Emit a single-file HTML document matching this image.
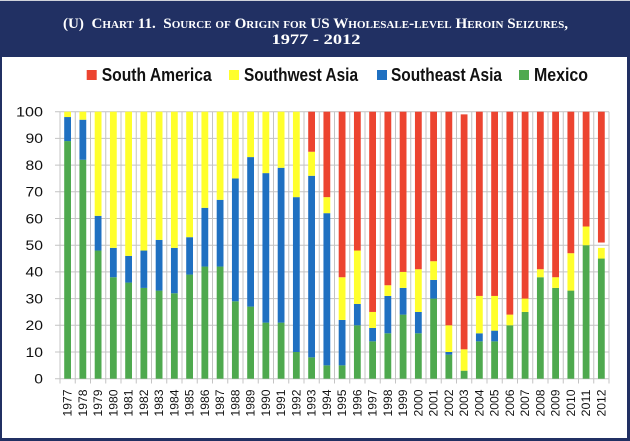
<!DOCTYPE html>
<html><head><meta charset="utf-8"><style>
html,body{margin:0;padding:0;background:#fff;}
svg{display:block;}
.t{font-family:"Liberation Serif",serif;font-weight:bold;fill:#fff;}
.lg{font-family:"Liberation Sans",sans-serif;font-weight:bold;font-size:18px;fill:#111;}
.yl{font-family:"Liberation Sans",sans-serif;font-size:13.5px;fill:#111;}
.xl{font-family:"Liberation Sans",sans-serif;font-size:12px;fill:#111;}
</style></head><body>
<svg width="630" height="441" viewBox="0 0 630 441" xmlns="http://www.w3.org/2000/svg">
<rect x="0" y="0" width="630" height="441" fill="#fff"/>
<rect x="0" y="0" width="630" height="1" fill="#cfd2da"/>
<rect x="0" y="1" width="630" height="56" fill="#213063"/>
<text class="t" x="315.5" y="28" text-anchor="middle" font-size="15" textLength="505" lengthAdjust="spacingAndGlyphs" style="font-variant:small-caps;white-space:pre">(U)  Chart 11.  Source of Origin for US Wholesale-level Heroin Seizures,</text>
<text class="t" x="316" y="44" text-anchor="middle" font-size="15" textLength="89" lengthAdjust="spacingAndGlyphs">1977 - 2012</text>
<rect x="0" y="57" width="2" height="384" fill="#213063"/>
<rect x="627" y="57" width="3" height="384" fill="#213063"/>
<rect x="0" y="438" width="630" height="3" fill="#213063"/>
<rect x="86.7" y="70" width="10" height="10" fill="#ec4430"/>
<text class="lg" x="101.7" y="81" textLength="110" lengthAdjust="spacingAndGlyphs">South America</text>
<rect x="229" y="70" width="10" height="10" fill="#ffff2c"/>
<text class="lg" x="244" y="81" textLength="114" lengthAdjust="spacingAndGlyphs">Southwest Asia</text>
<rect x="377" y="70" width="10" height="10" fill="#1f70c1"/>
<text class="lg" x="391" y="81" textLength="111" lengthAdjust="spacingAndGlyphs">Southeast Asia</text>
<rect x="519" y="70" width="10" height="10" fill="#4ea94e"/>
<text class="lg" x="534" y="81" textLength="54" lengthAdjust="spacingAndGlyphs">Mexico</text>
<g stroke="#c4c4c4" stroke-width="1" fill="none">
<path d="M55 378.7H609M55 352H609M55 325.3H609M55 298.6H609M55 271.9H609M55 245.2H609M55 218.5H609M55 191.8H609M55 165.1H609M55 138.4H609M55 111.7H609"/>
<path d="M60 111.7V383.5M75.25 111.7V383.5M90.5 111.7V383.5M105.75 111.7V383.5M121 111.7V383.5M136.25 111.7V383.5M151.5 111.7V383.5M166.75 111.7V383.5M182 111.7V383.5M197.25 111.7V383.5M212.5 111.7V383.5M227.75 111.7V383.5M243 111.7V383.5M258.25 111.7V383.5M273.5 111.7V383.5M288.75 111.7V383.5M304 111.7V383.5M319.25 111.7V383.5M334.5 111.7V383.5M349.75 111.7V383.5M365 111.7V383.5M380.25 111.7V383.5M395.5 111.7V383.5M410.75 111.7V383.5M426 111.7V383.5M441.25 111.7V383.5M456.5 111.7V383.5M471.75 111.7V383.5M487 111.7V383.5M502.25 111.7V383.5M517.5 111.7V383.5M532.75 111.7V383.5M548 111.7V383.5M563.25 111.7V383.5M578.5 111.7V383.5M593.75 111.7V383.5M609 111.7V383.5"/>
</g>
<g class="yl" text-anchor="end">
<text x="43" y="116.5" textLength="27" lengthAdjust="spacingAndGlyphs">100</text>
<text x="43" y="143.2" textLength="17.5" lengthAdjust="spacingAndGlyphs">90</text>
<text x="43" y="169.9" textLength="17.5" lengthAdjust="spacingAndGlyphs">80</text>
<text x="43" y="196.6" textLength="17.5" lengthAdjust="spacingAndGlyphs">70</text>
<text x="43" y="223.3" textLength="17.5" lengthAdjust="spacingAndGlyphs">60</text>
<text x="43" y="250" textLength="17.5" lengthAdjust="spacingAndGlyphs">50</text>
<text x="43" y="276.7" textLength="17.5" lengthAdjust="spacingAndGlyphs">40</text>
<text x="43" y="303.4" textLength="17.5" lengthAdjust="spacingAndGlyphs">30</text>
<text x="43" y="330.1" textLength="17.5" lengthAdjust="spacingAndGlyphs">20</text>
<text x="43" y="356.8" textLength="17.5" lengthAdjust="spacingAndGlyphs">10</text>
<text x="43" y="383.5" textLength="8.7" lengthAdjust="spacingAndGlyphs">0</text>
</g>
<g>
<g fill="#4ea94e">
<rect x="64.2" y="141.07" width="6.8" height="237.63"/>
<rect x="79.45" y="159.76" width="6.8" height="218.94"/>
<rect x="94.7" y="250.54" width="6.8" height="128.16"/>
<rect x="109.95" y="277.24" width="6.8" height="101.46"/>
<rect x="125.2" y="282.58" width="6.8" height="96.12"/>
<rect x="140.45" y="287.92" width="6.8" height="90.78"/>
<rect x="155.7" y="290.59" width="6.8" height="88.11"/>
<rect x="170.95" y="293.26" width="6.8" height="85.44"/>
<rect x="186.2" y="274.57" width="6.8" height="104.13"/>
<rect x="201.45" y="266.56" width="6.8" height="112.14"/>
<rect x="216.7" y="266.56" width="6.8" height="112.14"/>
<rect x="231.95" y="301.27" width="6.8" height="77.43"/>
<rect x="247.2" y="306.61" width="6.8" height="72.09"/>
<rect x="262.45" y="322.63" width="6.8" height="56.07"/>
<rect x="277.7" y="322.63" width="6.8" height="56.07"/>
<rect x="292.95" y="352" width="6.8" height="26.7"/>
<rect x="308.2" y="357.34" width="6.8" height="21.36"/>
<rect x="323.45" y="365.35" width="6.8" height="13.35"/>
<rect x="338.7" y="365.35" width="6.8" height="13.35"/>
<rect x="353.95" y="325.3" width="6.8" height="53.4"/>
<rect x="369.2" y="341.32" width="6.8" height="37.38"/>
<rect x="384.45" y="333.31" width="6.8" height="45.39"/>
<rect x="399.7" y="314.62" width="6.8" height="64.08"/>
<rect x="414.95" y="333.31" width="6.8" height="45.39"/>
<rect x="430.2" y="298.6" width="6.8" height="80.1"/>
<rect x="445.45" y="354.67" width="6.8" height="24.03"/>
<rect x="460.7" y="370.69" width="6.8" height="8.01"/>
<rect x="475.95" y="341.32" width="6.8" height="37.38"/>
<rect x="491.2" y="341.32" width="6.8" height="37.38"/>
<rect x="506.45" y="325.3" width="6.8" height="53.4"/>
<rect x="521.7" y="311.95" width="6.8" height="66.75"/>
<rect x="536.95" y="277.24" width="6.8" height="101.46"/>
<rect x="552.2" y="287.92" width="6.8" height="90.78"/>
<rect x="567.45" y="290.59" width="6.8" height="88.11"/>
<rect x="582.7" y="245.2" width="6.8" height="133.5"/>
<rect x="597.95" y="258.55" width="6.8" height="120.15"/>
</g>
<g fill="#1f70c1">
<rect x="64.2" y="117.04" width="6.8" height="24.03"/>
<rect x="79.45" y="119.71" width="6.8" height="40.05"/>
<rect x="94.7" y="215.83" width="6.8" height="34.71"/>
<rect x="109.95" y="247.87" width="6.8" height="29.37"/>
<rect x="125.2" y="255.88" width="6.8" height="26.7"/>
<rect x="140.45" y="250.54" width="6.8" height="37.38"/>
<rect x="155.7" y="239.86" width="6.8" height="50.73"/>
<rect x="170.95" y="247.87" width="6.8" height="45.39"/>
<rect x="186.2" y="237.19" width="6.8" height="37.38"/>
<rect x="201.45" y="207.82" width="6.8" height="58.74"/>
<rect x="216.7" y="199.81" width="6.8" height="66.75"/>
<rect x="231.95" y="178.45" width="6.8" height="122.82"/>
<rect x="247.2" y="157.09" width="6.8" height="149.52"/>
<rect x="262.45" y="173.11" width="6.8" height="149.52"/>
<rect x="277.7" y="167.77" width="6.8" height="154.86"/>
<rect x="292.95" y="197.14" width="6.8" height="154.86"/>
<rect x="308.2" y="175.78" width="6.8" height="181.56"/>
<rect x="323.45" y="213.16" width="6.8" height="152.19"/>
<rect x="338.7" y="319.96" width="6.8" height="45.39"/>
<rect x="353.95" y="303.94" width="6.8" height="21.36"/>
<rect x="369.2" y="327.97" width="6.8" height="13.35"/>
<rect x="384.45" y="295.93" width="6.8" height="37.38"/>
<rect x="399.7" y="287.92" width="6.8" height="26.7"/>
<rect x="414.95" y="311.95" width="6.8" height="21.36"/>
<rect x="430.2" y="279.91" width="6.8" height="18.69"/>
<rect x="445.45" y="352" width="6.8" height="2.67"/>
<rect x="475.95" y="333.31" width="6.8" height="8.01"/>
<rect x="491.2" y="330.64" width="6.8" height="10.68"/>
</g>
<g fill="#ffff2c">
<rect x="64.2" y="111.7" width="6.8" height="5.34"/>
<rect x="79.45" y="111.7" width="6.8" height="8.01"/>
<rect x="94.7" y="111.7" width="6.8" height="104.13"/>
<rect x="109.95" y="111.7" width="6.8" height="136.17"/>
<rect x="125.2" y="111.7" width="6.8" height="144.18"/>
<rect x="140.45" y="111.7" width="6.8" height="138.84"/>
<rect x="155.7" y="111.7" width="6.8" height="128.16"/>
<rect x="170.95" y="111.7" width="6.8" height="136.17"/>
<rect x="186.2" y="111.7" width="6.8" height="125.49"/>
<rect x="201.45" y="111.7" width="6.8" height="96.12"/>
<rect x="216.7" y="111.7" width="6.8" height="88.11"/>
<rect x="231.95" y="111.7" width="6.8" height="66.75"/>
<rect x="247.2" y="111.7" width="6.8" height="45.39"/>
<rect x="262.45" y="111.7" width="6.8" height="61.41"/>
<rect x="277.7" y="111.7" width="6.8" height="56.07"/>
<rect x="292.95" y="111.7" width="6.8" height="85.44"/>
<rect x="308.2" y="151.75" width="6.8" height="24.03"/>
<rect x="323.45" y="197.14" width="6.8" height="16.02"/>
<rect x="338.7" y="277.24" width="6.8" height="42.72"/>
<rect x="353.95" y="250.54" width="6.8" height="53.4"/>
<rect x="369.2" y="311.95" width="6.8" height="16.02"/>
<rect x="384.45" y="285.25" width="6.8" height="10.68"/>
<rect x="399.7" y="271.9" width="6.8" height="16.02"/>
<rect x="414.95" y="269.23" width="6.8" height="42.72"/>
<rect x="430.2" y="261.22" width="6.8" height="18.69"/>
<rect x="445.45" y="325.3" width="6.8" height="26.7"/>
<rect x="460.7" y="349.33" width="6.8" height="21.36"/>
<rect x="475.95" y="295.93" width="6.8" height="37.38"/>
<rect x="491.2" y="295.93" width="6.8" height="34.71"/>
<rect x="506.45" y="314.62" width="6.8" height="10.68"/>
<rect x="521.7" y="298.6" width="6.8" height="13.35"/>
<rect x="536.95" y="269.23" width="6.8" height="8.01"/>
<rect x="552.2" y="277.24" width="6.8" height="10.68"/>
<rect x="567.45" y="253.21" width="6.8" height="37.38"/>
<rect x="582.7" y="226.51" width="6.8" height="18.69"/>
<rect x="597.95" y="247.87" width="6.8" height="10.68"/>
</g>
<g fill="#ec4430">
<rect x="308.2" y="111.7" width="6.8" height="40.05"/>
<rect x="323.45" y="111.7" width="6.8" height="85.44"/>
<rect x="338.7" y="111.7" width="6.8" height="165.54"/>
<rect x="353.95" y="111.7" width="6.8" height="138.84"/>
<rect x="369.2" y="111.7" width="6.8" height="200.25"/>
<rect x="384.45" y="111.7" width="6.8" height="173.55"/>
<rect x="399.7" y="111.7" width="6.8" height="160.2"/>
<rect x="414.95" y="111.7" width="6.8" height="157.53"/>
<rect x="430.2" y="111.7" width="6.8" height="149.52"/>
<rect x="445.45" y="111.7" width="6.8" height="213.6"/>
<rect x="460.7" y="114.37" width="6.8" height="234.96"/>
<rect x="475.95" y="111.7" width="6.8" height="184.23"/>
<rect x="491.2" y="111.7" width="6.8" height="184.23"/>
<rect x="506.45" y="111.7" width="6.8" height="202.92"/>
<rect x="521.7" y="111.7" width="6.8" height="186.9"/>
<rect x="536.95" y="111.7" width="6.8" height="157.53"/>
<rect x="552.2" y="111.7" width="6.8" height="165.54"/>
<rect x="567.45" y="111.7" width="6.8" height="141.51"/>
<rect x="582.7" y="111.7" width="6.8" height="114.81"/>
<rect x="597.95" y="111.7" width="6.8" height="130.83"/>
</g>
</g>
<g class="xl" text-anchor="end">
<text transform="translate(71.6,389.5) rotate(-90)" textLength="27" lengthAdjust="spacingAndGlyphs">1977</text>
<text transform="translate(86.85,389.5) rotate(-90)" textLength="27" lengthAdjust="spacingAndGlyphs">1978</text>
<text transform="translate(102.1,389.5) rotate(-90)" textLength="27" lengthAdjust="spacingAndGlyphs">1979</text>
<text transform="translate(117.35,389.5) rotate(-90)" textLength="27" lengthAdjust="spacingAndGlyphs">1980</text>
<text transform="translate(132.6,389.5) rotate(-90)" textLength="27" lengthAdjust="spacingAndGlyphs">1981</text>
<text transform="translate(147.85,389.5) rotate(-90)" textLength="27" lengthAdjust="spacingAndGlyphs">1982</text>
<text transform="translate(163.1,389.5) rotate(-90)" textLength="27" lengthAdjust="spacingAndGlyphs">1983</text>
<text transform="translate(178.35,389.5) rotate(-90)" textLength="27" lengthAdjust="spacingAndGlyphs">1984</text>
<text transform="translate(193.6,389.5) rotate(-90)" textLength="27" lengthAdjust="spacingAndGlyphs">1985</text>
<text transform="translate(208.85,389.5) rotate(-90)" textLength="27" lengthAdjust="spacingAndGlyphs">1986</text>
<text transform="translate(224.1,389.5) rotate(-90)" textLength="27" lengthAdjust="spacingAndGlyphs">1987</text>
<text transform="translate(239.35,389.5) rotate(-90)" textLength="27" lengthAdjust="spacingAndGlyphs">1988</text>
<text transform="translate(254.6,389.5) rotate(-90)" textLength="27" lengthAdjust="spacingAndGlyphs">1989</text>
<text transform="translate(269.85,389.5) rotate(-90)" textLength="27" lengthAdjust="spacingAndGlyphs">1990</text>
<text transform="translate(285.1,389.5) rotate(-90)" textLength="27" lengthAdjust="spacingAndGlyphs">1991</text>
<text transform="translate(300.35,389.5) rotate(-90)" textLength="27" lengthAdjust="spacingAndGlyphs">1992</text>
<text transform="translate(315.6,389.5) rotate(-90)" textLength="27" lengthAdjust="spacingAndGlyphs">1993</text>
<text transform="translate(330.85,389.5) rotate(-90)" textLength="27" lengthAdjust="spacingAndGlyphs">1994</text>
<text transform="translate(346.1,389.5) rotate(-90)" textLength="27" lengthAdjust="spacingAndGlyphs">1995</text>
<text transform="translate(361.35,389.5) rotate(-90)" textLength="27" lengthAdjust="spacingAndGlyphs">1996</text>
<text transform="translate(376.6,389.5) rotate(-90)" textLength="27" lengthAdjust="spacingAndGlyphs">1997</text>
<text transform="translate(391.85,389.5) rotate(-90)" textLength="27" lengthAdjust="spacingAndGlyphs">1998</text>
<text transform="translate(407.1,389.5) rotate(-90)" textLength="27" lengthAdjust="spacingAndGlyphs">1999</text>
<text transform="translate(422.35,389.5) rotate(-90)" textLength="27" lengthAdjust="spacingAndGlyphs">2000</text>
<text transform="translate(437.6,389.5) rotate(-90)" textLength="27" lengthAdjust="spacingAndGlyphs">2001</text>
<text transform="translate(452.85,389.5) rotate(-90)" textLength="27" lengthAdjust="spacingAndGlyphs">2002</text>
<text transform="translate(468.1,389.5) rotate(-90)" textLength="27" lengthAdjust="spacingAndGlyphs">2003</text>
<text transform="translate(483.35,389.5) rotate(-90)" textLength="27" lengthAdjust="spacingAndGlyphs">2004</text>
<text transform="translate(498.6,389.5) rotate(-90)" textLength="27" lengthAdjust="spacingAndGlyphs">2005</text>
<text transform="translate(513.85,389.5) rotate(-90)" textLength="27" lengthAdjust="spacingAndGlyphs">2006</text>
<text transform="translate(529.1,389.5) rotate(-90)" textLength="27" lengthAdjust="spacingAndGlyphs">2007</text>
<text transform="translate(544.35,389.5) rotate(-90)" textLength="27" lengthAdjust="spacingAndGlyphs">2008</text>
<text transform="translate(559.6,389.5) rotate(-90)" textLength="27" lengthAdjust="spacingAndGlyphs">2009</text>
<text transform="translate(574.85,389.5) rotate(-90)" textLength="27" lengthAdjust="spacingAndGlyphs">2010</text>
<text transform="translate(590.1,389.5) rotate(-90)" textLength="27" lengthAdjust="spacingAndGlyphs">2011</text>
<text transform="translate(605.35,389.5) rotate(-90)" textLength="27" lengthAdjust="spacingAndGlyphs">2012</text>
</g>
</svg>
</body></html>
